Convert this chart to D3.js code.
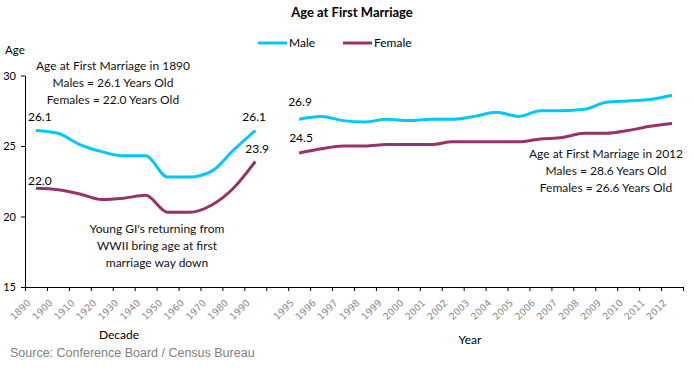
<!DOCTYPE html>
<html>
<head>
<meta charset="utf-8">
<script src="https://cdn.jsdelivr.net/npm/d3@7"></script>
<style>
  body { margin: 0; background: #fff; }
  svg text { font-family: Lato, "Noto Sans", sans-serif; }
</style>
</head>
<body>
<svg width="694" height="374"></svg>
<script>
const decades = ['1890','1900','1910','1920','1930','1940','1950','1960','1970','1980','1990'];
const years = ['1995','1996','1997','1998','1999','2000','2001','2002','2003','2004','2005','2006','2007','2008','2009','2010','2011','2012'];
const categories = [...decades, ' ', ...years];

const maleDecades = [26.1, 25.9, 25.1, 24.6, 24.3, 24.3, 22.8, 22.8, 23.2, 24.7, 26.1];
const femaleDecades = [22.0, 21.9, 21.6, 21.2, 21.3, 21.5, 20.3, 20.3, 20.8, 22.0, 23.9];
const maleYears = [26.9, 27.1, 26.8, 26.7, 26.9, 26.8, 26.9, 26.9, 27.1, 27.4, 27.1, 27.5, 27.5, 27.6, 28.1, 28.2, 28.3, 28.6];
const femaleYears = [24.5, 24.8, 25.0, 25.0, 25.1, 25.1, 25.1, 25.3, 25.3, 25.3, 25.3, 25.5, 25.6, 25.9, 25.9, 26.1, 26.4, 26.6];
const yTicks = [15, 20, 25, 30];

const maleColor = '#00c8f8';
const femaleColor = '#993366';

const svg = d3.select('svg');
const x = d3.scaleBand().domain(categories).range([25, 683]).padding(0);
const xEdge = d3.scaleLinear().domain([0, categories.length]).range([25, 683]);
const y = d3.scaleLinear().domain([15, 30]).range([287, 75.5]);
const cx = c => x(c) + x.bandwidth() / 2;

// title
svg.append('text').attr('x', 352).attr('y', 17).attr('text-anchor', 'middle')
  .style('font-size', '13px').style('font-weight', 'bold').text('Age at First Marriage');

// legend
const legend = [['Male', maleColor, 258], ['Female', femaleColor, 343]];
legend.forEach(([name, col, lx]) => {
  svg.append('line').attr('x1', lx).attr('x2', lx + 29).attr('y1', 43).attr('y2', 43)
    .attr('stroke', col).attr('stroke-width', 3);
  svg.append('text').attr('x', lx + 31).attr('y', 47).style('font-size', '12px').text(name);
});

// y axis
const yAxis = svg.append('g').attr('transform', 'translate(25,0)')
  .call(d3.axisLeft(y).tickValues(yTicks).tickSize(4).tickSizeOuter(0).tickPadding(5));
yAxis.select('.domain').attr('stroke', '#000');
yAxis.selectAll('text').style('font-size', '11px').style('font-family', 'Lato, sans-serif').attr('fill', '#000');
svg.append('text').attr('x', 5).attr('y', 54).style('font-size', '11.5px').text('Age');

// x axis: ticks at category boundaries
const xAxis = svg.append('g').attr('transform', 'translate(0,287)')
  .call(d3.axisBottom(xEdge).tickValues(d3.range(0, categories.length + 1)).tickFormat('').tickSize(4).tickSizeOuter(0));
xAxis.select('.domain').attr('stroke', '#000');

svg.append('g').selectAll('text').data(categories).join('text')
  .attr('transform', d => `translate(${cx(d) - 7},${301}) rotate(-45)`)
  .attr('text-anchor', 'end').attr('dy', '0.35em')
  .style('font-family', 'Tahoma, "DejaVu Sans", sans-serif').style('font-size', '9.5px')
  .attr('fill', '#8a8a8a').text(d => d.trim());

svg.append('text').attr('x', 119).attr('y', 339).attr('text-anchor', 'middle').style('font-size', '12px').text('Decade');
svg.append('text').attr('x', 470).attr('y', 344).attr('text-anchor', 'middle').style('font-size', '12px').text('Year');

// lines
const line = d3.line().x(d => cx(d[0])).y(d => y(d[1])).curve(d3.curveMonotoneX);
const series = [
  [decades, maleDecades, maleColor],
  [decades, femaleDecades, femaleColor],
  [years, maleYears, maleColor],
  [years, femaleYears, femaleColor]
];
series.forEach(([cats, vals, col]) => {
  svg.append('path').datum(cats.map((c, i) => [c, vals[i]]))
    .attr('d', line).attr('fill', 'none').attr('stroke', col).attr('stroke-width', 3)
    .attr('stroke-linejoin', 'round');
});

// data labels: [category, value, dx, dy] offsets from the point
const pointLabels = [
  ['1890', maleDecades[0], -8, -9.5],
  ['1890', femaleDecades[0], -8, -3.5],
  ['1990', maleDecades[10], -13, -9.5],
  ['1990', femaleDecades[10], -10, -8.5],
  ['1995', maleYears[0], -11, -13],
  ['1995', femaleYears[0], -10, -11]
];
pointLabels.forEach(([c, v, dx, dy]) => {
  svg.append('text').attr('x', cx(c) + dx).attr('y', y(v) + dy)
    .style('font-size', '12px').text(v.toFixed(1));
});

// annotations
function note(lines, ax, ay) {
  const t = svg.append('text').attr('text-anchor', 'middle').style('font-size', '12px').attr('fill', '#111');
  lines.forEach((s, i) => t.append('tspan').attr('x', ax).attr('y', ay + i * 17).text(s));
}
note(['Age at First Marriage in 1890', 'Males = 26.1 Years Old', 'Females = 22.0 Years Old'], 113, 70);
note(["Young GI's returning from", 'WWII bring age at first', 'marriage way down'], 157, 233);
note(['Age at First Marriage in 2012', 'Males = 28.6 Years Old', 'Females = 26.6 Years Old'], 606, 158);

// source
svg.append('text').attr('x', 10).attr('y', 357)
  .style('font-family', '"Liberation Sans", Arial, sans-serif').style('font-size', '12.5px')
  .attr('fill', '#808080').text('Source:  Conference Board / Census Bureau');
</script>
</body>
</html>
